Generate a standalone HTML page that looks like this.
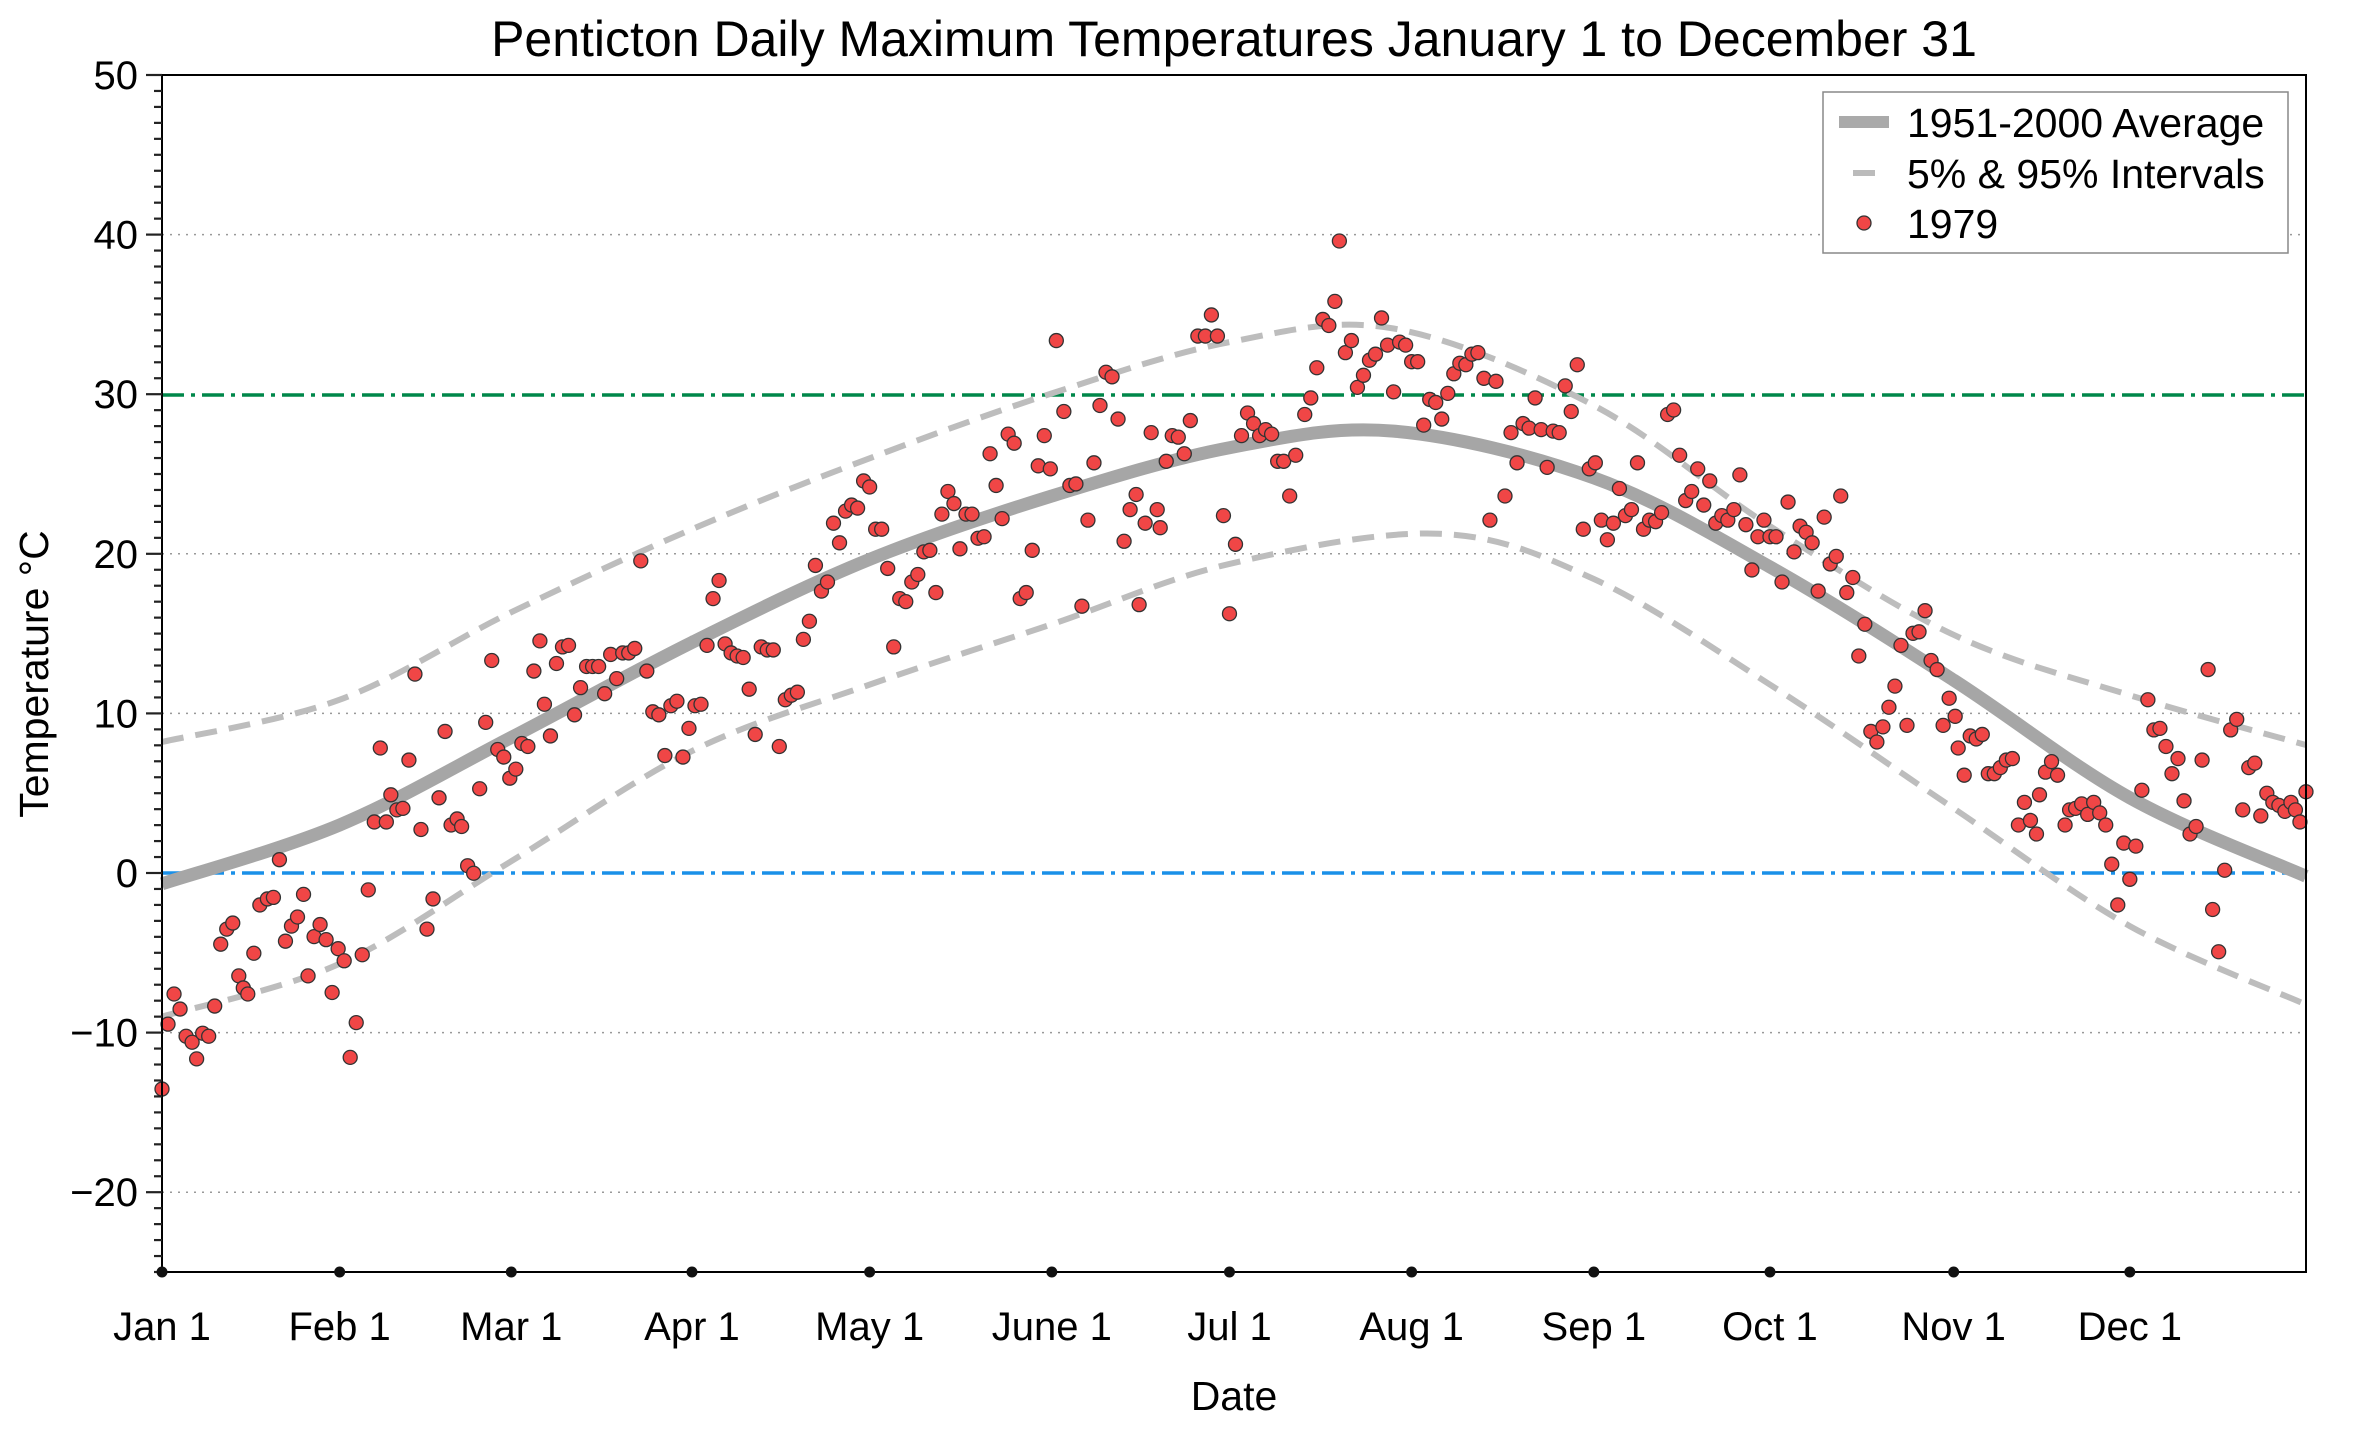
<!DOCTYPE html>
<html><head><meta charset="utf-8"><style>
html,body{margin:0;padding:0;background:#fff}
svg{display:block;font-family:"Liberation Sans",sans-serif}
</style></head><body>
<svg id="s" width="2360" height="1432" viewBox="0 0 2360 1432" xmlns="http://www.w3.org/2000/svg">
<rect width="2360" height="1432" fill="#fff"/>
<g id="grid"></g>
<line x1="162" y1="395" x2="2306" y2="395" stroke="#00874a" stroke-width="3.5" stroke-dasharray="22,7,4,7"/>
<line x1="162" y1="873" x2="2306" y2="873" stroke="#1a90e8" stroke-width="3.5" stroke-dasharray="22,7,4,7"/>
<g id="curves"></g>
<g id="pts"></g>
<rect x="162" y="75" width="2144" height="1197" fill="none" stroke="#000" stroke-width="2"/>
<g id="ticks"></g>
<text x="1234" y="56" font-size="50" text-anchor="middle">Penticton Daily Maximum Temperatures January 1 to December 31</text>
<text x="1234" y="1410" font-size="41" text-anchor="middle">Date</text>
<text transform="translate(48,674) rotate(-90)" font-size="41" text-anchor="middle">Temperature °C</text>
<rect x="1823" y="92" width="465" height="161" fill="#fff" stroke="#888" stroke-width="1.5"/>
<line x1="1839" y1="122" x2="1889" y2="122" stroke="#aaa" stroke-width="12"/>
<line x1="1853" y1="173" x2="1875" y2="173" stroke="#bbb" stroke-width="6"/>
<circle cx="1864" cy="223" r="7" fill="#f04646" stroke="#333" stroke-width="1.3"/>
<text x="1907" y="137" font-size="41">1951-2000 Average</text>
<text x="1907" y="188" font-size="41">5% &amp; 95% Intervals</text>
<text x="1907" y="238" font-size="41">1979</text>
</svg>
<script>
var NS="http://www.w3.org/2000/svg";
function el(p,t,a,txt){var e=document.createElementNS(NS,t);for(var k in a)e.setAttribute(k,a[k]);if(txt!=null)e.textContent=txt;p.appendChild(e);return e;}
function X(x){return 162+(x-107)*1.5056;}
function Y(y){return 75+(y-51)*1.509;}
function TY(t){return 75+(50-t)*15.96;}
var g=document.getElementById('grid'),tk=document.getElementById('ticks');
for(var t=-25;t<=50;t++){
  var y=TY(t),maj=(t%10==0);
  el(tk,'line',{x1:maj?146:154,y1:y,x2:162,y2:y,stroke:'#222','stroke-width':2.2});
  if(maj){
    el(tk,'text',{x:138,y:y+14,'font-size':40,'text-anchor':'end'},(t<0?'\u2212':'')+Math.abs(t));
    if(t>-25&&t<50&&t!=0&&t!=30) el(g,'line',{x1:162,y1:y,x2:2306,y2:y,stroke:'#999','stroke-width':1.5,'stroke-dasharray':'2,6'});
  }
}
var months=[["Jan 1",107],["Feb 1",225],["Mar 1",339],["Apr 1",459],["May 1",577],["June 1",698],["Jul 1",816],["Aug 1",937],["Sep 1",1058],["Oct 1",1175],["Nov 1",1297],["Dec 1",1414]];
months.forEach(function(m){var x=X(m[1]);el(tk,'circle',{cx:x,cy:1272,r:5.5,fill:'#111'});el(tk,'text',{x:x,y:1340,'font-size':40,'text-anchor':'middle'},m[0]);});
function spline(pts){var d="M"+X(pts[0][0])+","+Y(pts[0][1]);
 for(var i=0;i<pts.length-1;i++){var p0=pts[Math.max(0,i-1)],p1=pts[i],p2=pts[i+1],p3=pts[Math.min(pts.length-1,i+2)];
  var c1=[p1[0]+(p2[0]-p0[0])/6,p1[1]+(p2[1]-p0[1])/6],c2=[p2[0]-(p3[0]-p1[0])/6,p2[1]-(p3[1]-p1[1])/6];
  d+=" C"+X(c1[0])+","+Y(c1[1])+" "+X(c2[0])+","+Y(c2[1])+" "+X(p2[0])+","+Y(p2[1]);}
 return d;}
var cv=document.getElementById('curves');
var avg=[[107,587],[225,548],[339,490],[459,427],[577,372],[698,330],[816,298],[925,287],[1058,318],[1175,377],[1297,452],[1414,530],[1531,582]];
var up=[[107,493],[225,465],[339,407],[459,352],[577,305],[698,262],[816,228],[925,219],[1058,270],[1175,350],[1297,422],[1414,462],[1531,495]];
var lo=[[107,675],[225,640],[339,572],[459,499],[577,455],[698,415],[816,375],[955,355],[1058,385],[1175,455],[1297,537],[1414,615],[1531,667]];
el(cv,'path',{d:spline(up),fill:'none',stroke:'#bdbdbd','stroke-width':6,'stroke-dasharray':'22,12'});
el(cv,'path',{d:spline(lo),fill:'none',stroke:'#bdbdbd','stroke-width':6,'stroke-dasharray':'22,12'});
el(cv,'path',{d:spline(avg),fill:'none',stroke:'#a6a6a6','stroke-width':13});
var P=[[107,723],[111,680],[115,660],[119,670],[123,688],[127,692],[130,703],[134,686],[138,688],[142,668],[146,627],[150,617],[154,613],[158,648],[161,656],[164,660],[168,633],[172,601],[177,597],[181,596],[185,571],[189,625],[193,615],[197,609],[201,594],[204,648],[208,622],[212,614],[216,624],[220,659],[224,630],[228,638],[232,702],[236,679],[240,634],[244,591],[248,546],[252,497],[256,546],[259,528],[263,538],[267,537],[271,505],[275,448],[279,551],[283,617],[287,597],[291,530],[295,486],[299,548],[303,544],[306,549],[310,575],[314,580],[318,524],[322,480],[326,439],[330,498],[334,503],[338,517],[342,511],[346,494],[350,496],[354,446],[358,426],[361,468],[365,489],[369,441],[373,430],[377,429],[381,475],[385,457],[389,443],[393,443],[397,443],[401,461],[405,435],[409,451],[413,434],[417,434],[421,431],[425,373],[429,446],[433,473],[437,475],[441,502],[445,469],[449,466],[453,503],[457,484],[461,469],[465,468],[469,429],[473,398],[477,386],[481,428],[485,434],[489,436],[493,437],[497,458],[501,488],[505,430],[509,432],[513,432],[517,496],[521,465],[525,462],[529,460],[533,425],[537,413],[541,376],[545,393],[549,387],[553,348],[557,361],[561,340],[565,336],[569,338],[573,320],[577,324],[581,352],[585,352],[589,378],[593,430],[597,398],[601,400],[605,387],[609,382],[613,367],[617,366],[621,394],[625,342],[629,327],[633,335],[637,365],[641,342],[645,342],[649,358],[653,357],[657,302],[661,323],[665,345],[669,289],[673,295],[677,398],[681,394],[685,366],[689,310],[693,290],[697,312],[701,227],[706,274],[710,323],[714,322],[718,403],[722,346],[726,308],[730,270],[734,248],[738,251],[742,279],[746,360],[750,339],[754,329],[756,402],[760,348],[764,288],[768,339],[770,351],[774,307],[778,290],[782,291],[786,302],[790,280],[795,224],[800,224],[804,210],[808,224],[812,343],[816,408],[820,362],[824,290],[828,275],[832,282],[836,290],[840,286],[844,289],[848,307],[852,307],[856,330],[860,303],[866,276],[870,265],[874,245],[878,213],[882,217],[886,201],[889,161],[893,235],[897,227],[901,258],[905,250],[909,240],[913,236],[917,212],[921,230],[925,261],[929,228],[933,230],[937,241],[941,241],[945,283],[949,266],[953,268],[957,279],[961,262],[965,249],[969,242],[973,243],[977,236],[981,235],[985,252],[989,346],[993,254],[999,330],[1003,288],[1007,308],[1011,282],[1015,285],[1019,265],[1023,286],[1027,311],[1031,287],[1035,288],[1039,257],[1043,274],[1047,243],[1051,352],[1055,312],[1059,308],[1063,346],[1067,359],[1071,348],[1075,325],[1079,343],[1083,339],[1087,308],[1091,352],[1095,346],[1099,347],[1103,341],[1107,276],[1111,273],[1115,303],[1119,333],[1123,327],[1127,312],[1131,336],[1135,320],[1139,348],[1143,343],[1147,346],[1151,339],[1155,316],[1159,349],[1163,379],[1167,357],[1171,346],[1175,357],[1179,357],[1183,387],[1187,334],[1191,367],[1195,350],[1199,354],[1203,361],[1207,393],[1211,344],[1215,375],[1219,370],[1222,330],[1226,394],[1230,384],[1234,436],[1238,415],[1242,486],[1246,493],[1250,483],[1254,470],[1258,456],[1262,429],[1266,482],[1270,421],[1274,420],[1278,406],[1282,439],[1286,445],[1290,482],[1294,464],[1298,476],[1300,497],[1304,515],[1308,489],[1312,491],[1316,488],[1320,514],[1324,514],[1328,510],[1332,505],[1336,504],[1340,548],[1344,533],[1348,545],[1352,554],[1354,528],[1358,513],[1362,506],[1366,515],[1371,548],[1374,538],[1378,537],[1382,534],[1386,541],[1390,533],[1394,540],[1398,548],[1402,574],[1406,601],[1410,560],[1414,584],[1418,562],[1422,525],[1426,465],[1430,485],[1434,484],[1438,496],[1442,514],[1446,504],[1450,532],[1454,554],[1458,549],[1462,505],[1466,445],[1469,604],[1473,632],[1477,578],[1481,485],[1485,478],[1489,538],[1493,510],[1497,507],[1501,542],[1505,527],[1509,533],[1513,535],[1517,539],[1521,533],[1524,538],[1527,546],[1531,526]];
var pg=document.getElementById('pts');
P.forEach(function(p){el(pg,'circle',{cx:X(p[0]),cy:Y(p[1]),r:7,fill:'#f04646',stroke:'#333','stroke-width':1.3});});
</script>
</body></html>
